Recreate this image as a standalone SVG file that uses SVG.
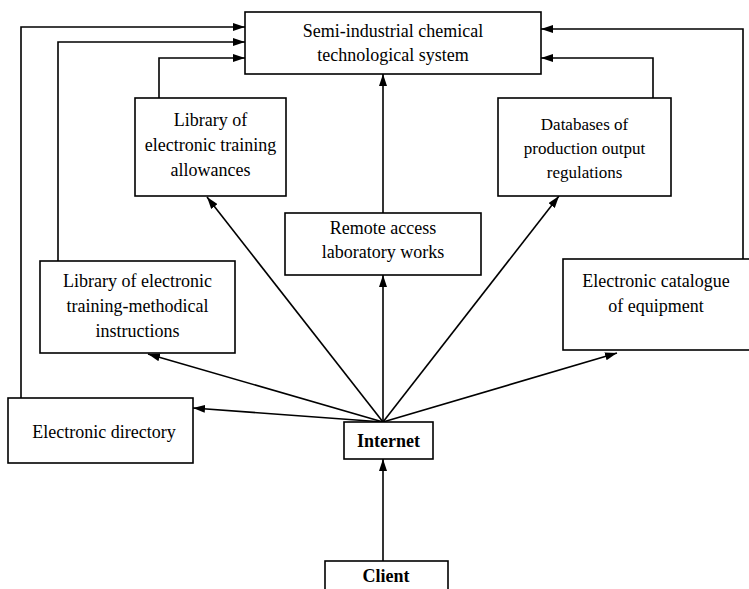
<svg xmlns="http://www.w3.org/2000/svg" width="749" height="589" viewBox="0 0 749 589">
<style>
.box{fill:#fff;stroke:#000;stroke-width:1.6}
.t{font-family:"Liberation Serif","Times New Roman",serif;font-size:18px;fill:#000;text-anchor:middle}
.s{font-size:17px}
.b{font-weight:bold}
.c{fill:none;stroke:#000;stroke-width:1.6}
</style>
<defs>
<marker id="ah" viewBox="0 0 12 8" refX="12" refY="4" markerWidth="12" markerHeight="8" markerUnits="userSpaceOnUse" orient="auto">
<path d="M0,0 L12,4 L0,8 Z" fill="#000"/>
</marker>
</defs>
<rect width="749" height="589" fill="#fff"/>
<g id="connectors">
<polyline class="c" points="21,398 21,27 245,27" marker-end="url(#ah)"/>
<polyline class="c" points="58,261 58,42 245,42" marker-end="url(#ah)"/>
<polyline class="c" points="159,98 159,58 245,58" marker-end="url(#ah)"/>
<polyline class="c" points="743,259 743,29 541,29" marker-end="url(#ah)"/>
<polyline class="c" points="653,98 653,58 541,58" marker-end="url(#ah)"/>
<line class="c" x1="383" y1="213" x2="383" y2="74" marker-end="url(#ah)"/>
<line class="c" x1="383" y1="422" x2="383" y2="275" marker-end="url(#ah)"/>
<line class="c" x1="383" y1="561" x2="383" y2="459" marker-end="url(#ah)"/>
<line class="c" x1="383" y1="422" x2="207" y2="197" marker-end="url(#ah)"/>
<line class="c" x1="383" y1="422" x2="559" y2="196" marker-end="url(#ah)"/>
<line class="c" x1="383" y1="422" x2="148" y2="354" marker-end="url(#ah)"/>
<line class="c" x1="383" y1="422" x2="193" y2="408" marker-end="url(#ah)"/>
<line class="c" x1="383" y1="422" x2="617" y2="353" marker-end="url(#ah)"/>
</g>
<g id="system">
<rect class="box" x="245" y="12" width="296" height="62"/>
<text class="t" x="393" y="37">Semi-industrial chemical</text>
<text class="t" x="393" y="61">technological system</text>
</g>
<g id="allowances">
<rect class="box" x="135" y="98" width="151" height="98"/>
<text class="t" x="210.5" y="126">Library of</text>
<text class="t" x="210.5" y="151">electronic training</text>
<text class="t" x="210.5" y="176">allowances</text>
</g>
<g id="remote">
<rect class="box" x="285" y="213" width="196" height="62"/>
<text class="t" x="383" y="234">Remote access</text>
<text class="t" x="383" y="258">laboratory works</text>
</g>
<g id="databases">
<rect class="box" x="498" y="98" width="173" height="98"/>
<text class="t s" x="584.5" y="130">Databases of</text>
<text class="t s" x="584.5" y="154">production output</text>
<text class="t s" x="584.5" y="178">regulations</text>
</g>
<g id="methodical">
<rect class="box" x="40" y="261" width="195" height="92"/>
<text class="t" x="137.5" y="287">Library of electronic</text>
<text class="t" x="137.5" y="312">training-methodical</text>
<text class="t" x="137.5" y="337">instructions</text>
</g>
<g id="catalogue">
<rect class="box" x="563" y="259" width="200" height="91"/>
<text class="t" x="656" y="287">Electronic catalogue</text>
<text class="t" x="656" y="312">of equipment</text>
</g>
<g id="directory">
<rect class="box" x="8" y="398" width="185" height="65"/>
<text class="t" x="104" y="438">Electronic directory</text>
</g>
<g id="internet">
<rect class="box" x="344" y="422" width="89" height="37"/>
<text class="t b" x="388.5" y="447">Internet</text>
</g>
<g id="client">
<rect class="box" x="325" y="561" width="123" height="40"/>
<text class="t b" x="386" y="582">Client</text>
</g>
</svg>
